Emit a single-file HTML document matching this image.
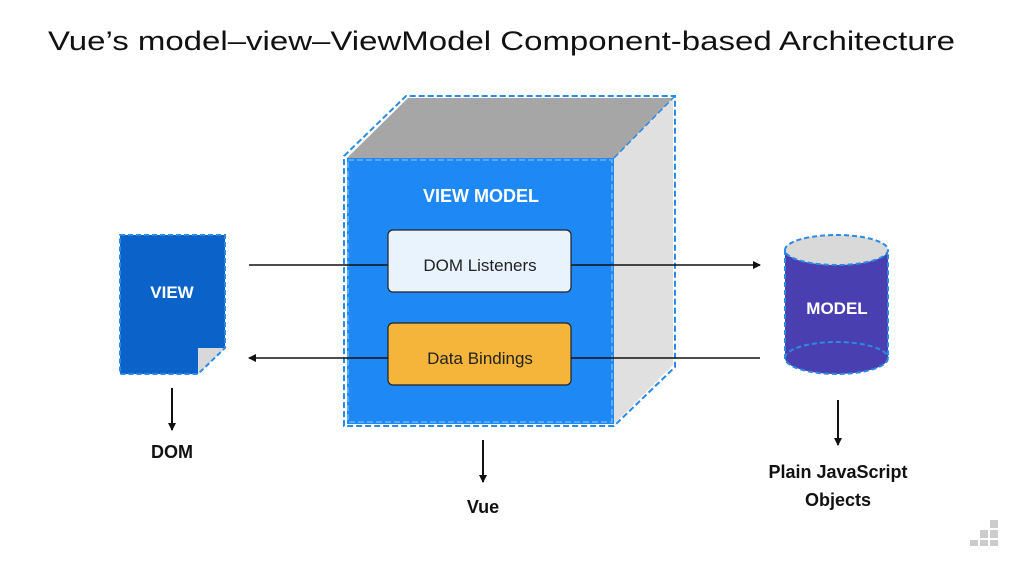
<!DOCTYPE html>
<html><head><meta charset="utf-8"><style>
html,body{margin:0;padding:0;background:#fff;}
svg{display:block;}
text{font-family:"Liberation Sans",sans-serif;}
</style></head><body>
<svg width="1024" height="576" viewBox="0 0 1024 576" xmlns="http://www.w3.org/2000/svg">
<defs>
<marker id="ah" markerWidth="8" markerHeight="8" refX="7" refY="4" orient="auto" markerUnits="userSpaceOnUse">
<path d="M0,0 L8,4 L0,8 Z" fill="#111"/></marker>
</defs>
<text x="48" y="50" font-size="27" fill="#111" textLength="907" lengthAdjust="spacingAndGlyphs">Vue’s model–view–ViewModel Component-based Architecture</text>

<!-- cube -->
<polygon points="347,158 408,98 673,98 614,158" fill="#a6a6a6"/>
<polygon points="614,158 673,98 673,365 614,424" fill="#e0e0e0"/>
<rect x="347" y="158" width="267" height="266" fill="#1e88f5"/>
<polygon points="344,156 406,96 675,96 675,367 614,426 344,426" fill="none" stroke="#2a8ae6" stroke-width="2" stroke-dasharray="6,3"/>
<rect x="348" y="160" width="264" height="262" fill="none" stroke="#6fb4f5" stroke-width="1.5" stroke-dasharray="6,3"/>
<line x1="614" y1="158" x2="675" y2="96" stroke="#2a8ae6" stroke-width="1.5" stroke-dasharray="6,3"/>
<text x="481" y="202" font-size="18" font-weight="bold" fill="#fff" text-anchor="middle">VIEW MODEL</text>

<!-- connectors -->
<line x1="249" y1="265" x2="760" y2="265" stroke="#111" stroke-width="1.5" marker-end="url(#ah)"/>
<line x1="760" y1="358" x2="249" y2="358" stroke="#111" stroke-width="1.5" marker-end="url(#ah)"/>

<rect x="388" y="230" width="183" height="62" rx="5" fill="#e8f3fd" stroke="#222" stroke-width="1.2"/>
<text x="480" y="271" font-size="17" fill="#222" text-anchor="middle">DOM Listeners</text>
<rect x="388" y="323" width="183" height="62" rx="5" fill="#f5b53a" stroke="#222" stroke-width="1.2"/>
<text x="480" y="364" font-size="17" fill="#222" text-anchor="middle">Data Bindings</text>

<!-- view doc -->
<polygon points="120,235 225,235 225,348 198,374 120,374" fill="#0b63c9"/>
<polygon points="198,374 225,348 198,348" fill="#d8d8d8"/>
<polygon points="120,235 225,235 225,348 198,374 120,374" fill="none" stroke="#2a8ae6" stroke-width="2" stroke-dasharray="5,3"/>
<text x="172" y="298" font-size="17" font-weight="bold" fill="#fff" text-anchor="middle">VIEW</text>

<!-- model cylinder -->
<path d="M785,250 L785,358 A51.5,16 0 0 0 888,358 L888,250 Z" fill="#4a3fb0"/>
<ellipse cx="836.5" cy="250" rx="51.5" ry="15" fill="#d9d9d9"/>
<ellipse cx="836.5" cy="250" rx="51.5" ry="15" fill="none" stroke="#2a8ae6" stroke-width="2" stroke-dasharray="5,3"/>
<path d="M785,358 A51.5,16 0 0 1 888,358" fill="none" stroke="#2a8ae6" stroke-width="2" stroke-dasharray="5,3"/>
<path d="M785,250 L785,358 A51.5,16 0 0 0 888,358 L888,250" fill="none" stroke="#2a8ae6" stroke-width="2" stroke-dasharray="5,3"/>
<text x="837" y="314" font-size="17" font-weight="bold" fill="#fff" text-anchor="middle">MODEL</text>

<!-- down arrows -->
<line x1="172" y1="388" x2="172" y2="430" stroke="#111" stroke-width="2" marker-end="url(#ah)"/>
<text x="172" y="458" font-size="18" font-weight="bold" fill="#111" text-anchor="middle">DOM</text>
<line x1="483" y1="440" x2="483" y2="482" stroke="#111" stroke-width="2" marker-end="url(#ah)"/>
<text x="483" y="513" font-size="18" font-weight="bold" fill="#111" text-anchor="middle">Vue</text>
<line x1="838" y1="400" x2="838" y2="445" stroke="#111" stroke-width="2" marker-end="url(#ah)"/>
<text x="838" y="478" font-size="18" font-weight="bold" fill="#111" text-anchor="middle">Plain JavaScript</text>
<text x="838" y="506" font-size="18" font-weight="bold" fill="#111" text-anchor="middle">Objects</text>

<!-- logo -->
<g fill="#ccc">
<rect x="990" y="520" width="8" height="8"/><rect x="980" y="530" width="8" height="8"/><rect x="990" y="530" width="8" height="8"/>
<rect x="970" y="540" width="8" height="6"/><rect x="980" y="540" width="8" height="6"/><rect x="990" y="540" width="8" height="6"/>
</g>
</svg>
</body></html>
